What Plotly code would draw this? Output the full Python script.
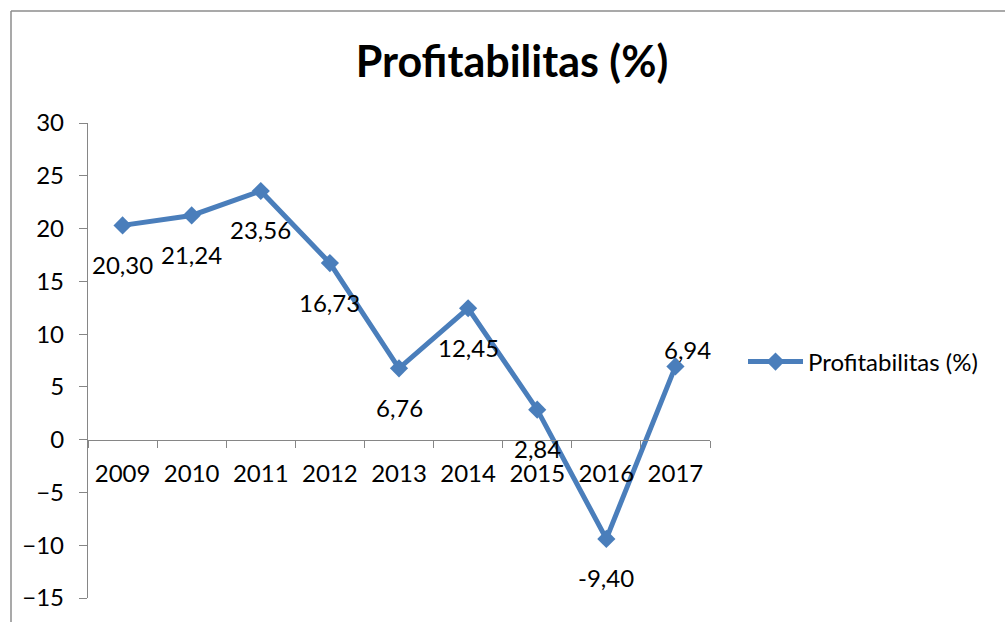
import plotly.graph_objects as go

years = ["2009", "2010", "2011", "2012", "2013", "2014", "2015", "2016", "2017"]
values = [20.30, 21.24, 23.56, 16.73, 6.76, 12.45, 2.84, -9.40, 6.94]
series_name = "Profitabilitas (%)"
title_text = "Profitabilitas (%)"
y_ticks = [-15, -10, -5, 0, 5, 10, 15, 20, 25, 30]

W, H = 1005, 622
L, R, T, B = 88, 295, 123, 24
pw, ph = W - L - R, H - T - B

FONT = "Lato"
FS = 24
BLUE = "#4A7EBB"
GRAY = "#868686"


def px_x(p):
    return (p - L) / pw


def px_y(p):
    return (H - B - p) / ph


fig = go.Figure()
fig.add_trace(go.Scatter(
    x=years, y=values, mode="lines+markers", name=series_name,
    line=dict(color=BLUE, width=5),
    marker=dict(symbol="diamond", size=14, color=BLUE),
    cliponaxis=False,
))

for i, v in enumerate(values):
    lbl = f"{v:.2f}".replace(".", ",")
    last = i == len(values) - 1
    fig.add_annotation(
        x=i, y=v, xref="x", yref="y", text=lbl, showarrow=False,
        xshift=12 if last else 0, yshift=17 if last else -39,
        font=dict(family=FONT, size=FS, color="black"),
    )

ymin, ymax = min(y_ticks), max(y_ticks)
fig.update_layout(
    width=W, height=H, autosize=False,
    margin=dict(l=L, r=R, t=T, b=B, pad=0),
    paper_bgcolor="white", plot_bgcolor="white",
    font=dict(family=FONT, size=FS, color="black"),
    title=dict(text="<b>" + title_text + "</b>", xref="container", yref="container",
               x=512 / W, y=1 - 62 / H, xanchor="center", yanchor="middle",
               font=dict(family=FONT, size=43, color="black")),
    xaxis=dict(type="category", categoryorder="array", categoryarray=years,
               range=[-0.5, len(years) - 0.5], anchor="free",
               position=(0 - ymin) / (ymax - ymin),
               showline=True, linecolor=GRAY, linewidth=1.3,
               ticks="outside", tickson="boundaries", ticklen=7, tickcolor=GRAY, tickwidth=1.3,
               showgrid=False, zeroline=False, ticklabelstandoff=12, tickangle=0,
               tickfont=dict(family=FONT, size=FS, color="black")),
    yaxis=dict(range=[ymin, ymax], tickvals=y_ticks, showline=True, linecolor=GRAY, linewidth=1.3,
               ticks="outside", ticklen=8, tickcolor=GRAY, tickwidth=1.3,
               showgrid=False, zeroline=False, ticklabelstandoff=10,
               tickfont=dict(family=FONT, size=FS, color="black")),
    showlegend=True,
    legend=dict(x=px_x(743), y=px_y(362), xanchor="left", yanchor="middle",
                itemwidth=55, bgcolor="rgba(0,0,0,0)",
                font=dict(family=FONT, size=FS, color="black")),
    shapes=[
        dict(type="line", xref="paper", yref="paper", x0=px_x(11), x1=px_x(11),
             y0=px_y(11), y1=px_y(H + 5), line=dict(color="#8C8C8C", width=1.5)),
        dict(type="line", xref="paper", yref="paper", x0=px_x(11), x1=px_x(W + 5),
             y0=px_y(11), y1=px_y(11), line=dict(color="#8C8C8C", width=1.5)),
    ],
)

fig.write_html("out.html", config={"displayModeBar": False},
               post_script="document.body.style.margin='0';document.body.style.overflow='hidden';")
